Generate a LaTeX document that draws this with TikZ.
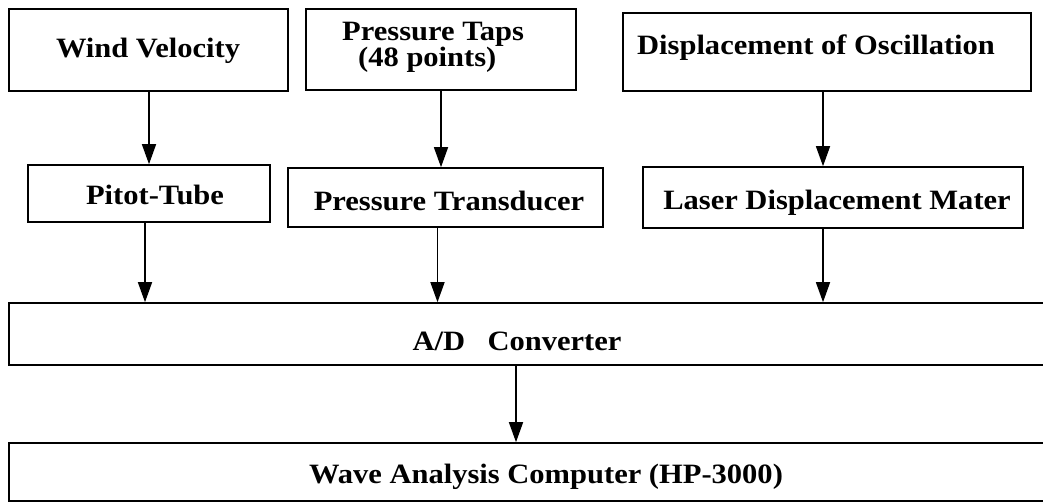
\documentclass[tikz,border=0pt]{standalone}
\usepackage{fontspec}
\setmainfont{Liberation Serif}[FakeStretch=1.09]
\usetikzlibrary{arrows.meta}
\begin{document}
\begin{tikzpicture}[x=1pt,y=-1pt,
  box/.style={draw,line width=1.6pt,rectangle,inner sep=0pt},
  lbl/.style={inner sep=0pt,anchor=base,font=\fontsize{28}{28}\selectfont\bfseries},
  arr/.style={line width=1.5pt,-{Triangle[width=14pt,length=20pt]}}]
\clip (0,0) rectangle (1043,502);
\fill[white] (0,0) rectangle (1043,502);
% top row
\node[box,minimum width=279,minimum height=82] (wind) at (148.5,50) {};
\node[box,minimum width=270,minimum height=81] (taps) at (441,49.5) {};
\node[box,minimum width=408,minimum height=78] (disp) at (827,52) {};
% middle row
\node[box,minimum width=242,minimum height=57] (pitot) at (149,193.5) {};
\node[box,minimum width=315,minimum height=59] (trans) at (445.5,197.5) {};
\node[box,minimum width=380,minimum height=61] (laser) at (833,197.5) {};
% wide boxes (extend past right edge)
\node[box,minimum width=1060,minimum height=62] (ad) at (539,334) {};
\node[box,minimum width=1060,minimum height=58] (wave) at (539,472) {};
% texts
\node[lbl] (windt) at (148,58) {Wind Velocity};
\node[lbl,anchor=north west,align=left,font=\fontsize{28}{25}\selectfont\bfseries]
  (tapst) at (342,21.5) {Pressure Taps\\\hspace*{16pt}(48 points)};
\node[lbl] (dispt) at (816,55) {Displacement of Oscillation};
\node[lbl] (pitott) at (155,205) {Pitot-Tube};
\node[lbl] (transt) at (449,211) {Pressure Transducer};
\node[lbl] (lasert) at (837,210) {Laser Displacement Mater};
\node[lbl] (adt) at (517,350) {A/D\hspace{0.8em}Converter};
\node[lbl] (wavet) at (546,483) {Wave Analysis Computer (HP-3000)};
% arrows
\draw[arr] (wind.south -| pitot.north) -- (pitot.north);
\draw[arr] (taps.south) -- (taps.south |- trans.north);
\draw[arr] ([xshift=-4]disp.south) -- ([xshift=-4]disp.south |- laser.north);
\draw[arr] ([xshift=-4]pitot.south) -- ([xshift=-4]pitot.south |- ad.north);
\draw[arr] ([xshift=-8]trans.south) -- ([xshift=-8]trans.south |- ad.north);
\draw[arr] ([xshift=-10]laser.south) -- ([xshift=-10]laser.south |- ad.north);
\draw[arr] (ad.south -| 516,0) -- (wave.north -| 516,0);
\end{tikzpicture}
\end{document}
